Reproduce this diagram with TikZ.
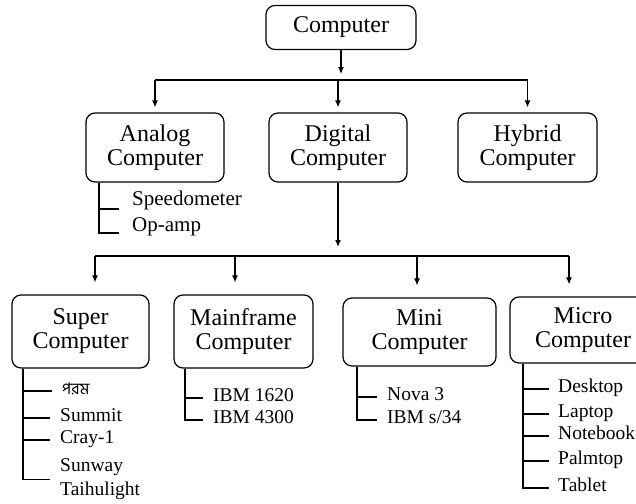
\documentclass[tikz,border=0pt]{standalone}
\usepackage{fontspec}
\setmainfont{Liberation Serif}
\newfontfamily\bengali[Script=Bengali]{Hind Siliguri}
\usetikzlibrary{arrows.meta}

\tikzset{
  box/.style={draw, line width=1.2pt, rounded corners=9pt, align=center,
    inner sep=0pt, font=\fontsize{24}{24}\selectfont},
  arr/.style={line width=1.2pt, -{Latex[length=7pt,width=6pt]}},
  tree/.style={line width=1.2pt},
  leaf/.style={anchor=west, inner sep=0pt, text height=1.6ex, text depth=.25ex,
    font=\fontsize{19.5}{24}\selectfont},
}

\begin{document}
\begin{tikzpicture}[x=1pt,y=-1pt]
\useasboundingbox (0,0) rectangle (636,503);
\clip (0,0) rectangle (636,503);
% boxes
\node[box, minimum width=150pt, minimum height=44pt] (comp) at (341,27.5) {Computer};
\node[box, minimum width=138pt, minimum height=69pt] (analog) at (155,147.5) {Analog\\Computer};
\node[box, minimum width=138pt, minimum height=69pt] (digital) at (338,147.5) {Digital\\Computer};
\node[box, minimum width=139pt, minimum height=69pt] (hybrid) at (527.5,147.5) {Hybrid\\Computer};
\node[box, minimum width=137pt, minimum height=73pt] (super) at (80.5,331.5) {Super\\Computer};
\node[box, minimum width=139pt, minimum height=73pt] (main) at (243.5,331.5) {Mainframe\\Computer};
\node[box, minimum width=153pt, minimum height=68pt] (mini) at (419.5,332) {Mini\\Computer};
\node[box, minimum width=146pt, minimum height=66pt] (micro) at (583,330) {Micro\\Computer};
% first level
\coordinate (bus1) at (340,80);
\draw[arr, shorten >=6pt] (comp) -- (comp |- bus1);
\draw[tree] (analog.north |- bus1) -- (hybrid.north |- bus1);
\foreach \n in {analog,digital,hybrid}
  \draw[arr, shorten >=5pt] (\n.north |- bus1) -- (\n);
% second level
\coordinate (bus2) at (339,256);
\coordinate (tsuper) at (95,256);
\coordinate (tmain) at (235,256);
\coordinate (tmini) at (417,256);
\coordinate (tmicro) at (569,256);
\draw[arr, shorten >=9pt] (digital) -- (digital |- bus2);
\draw[tree] (tsuper) -- (tmicro);
\foreach \t/\n in {tsuper/super,tmain/main,tmini/mini,tmicro/micro}
  \draw[arr, shorten >=12pt] (\t) -- (\t |- \n.north);
% analog examples
\node[leaf, font=\fontsize{21}{24}\selectfont] (speed) at (132,202) {Speedometer};
\node[leaf, font=\fontsize{21}{24}\selectfont] (opamp) at (132,228) {Op-amp};
\coordinate (atr) at (99,0);
\draw[tree] (analog.south -| atr) |- ([xshift=-13pt,yshift=-7pt]speed.west);
\draw[tree] (analog.south -| atr) |- ([xshift=-13pt,yshift=-5pt]opamp.west);
% super examples
\node[leaf, font=\bengali\fontsize{16}{20}\selectfont] (param) at (62,391) {পরম};
\node[leaf] (summit) at (60,418) {Summit};
\node[leaf] (cray) at (60,440) {Cray-1};
\node[leaf, align=left, text height={}, text depth={}] (sunway) at (60,479.5) {Sunway\\Taihulight};
\coordinate (str) at (23,0);
\foreach \l in {param,summit,cray,sunway}
  \draw[tree] (super.south -| str) |- ([xshift=-10pt]\l.west);
% mainframe examples
\node[leaf] (ibma) at (213,398) {IBM 1620};
\node[leaf] (ibmb) at (213,420) {IBM 4300};
\coordinate (mtr) at (185,0);
\foreach \l in {ibma,ibmb}
  \draw[tree] (main.south -| mtr) |- ([xshift=-10pt]\l.west);
% mini examples
\node[leaf] (nova) at (387,397) {Nova 3};
\node[leaf] (ibms) at (387,420) {IBM s/34};
\coordinate (ntr) at (357,0);
\foreach \l in {nova,ibms}
  \draw[tree] (mini.south -| ntr) |- ([xshift=-10pt]\l.west);
% micro examples
\node[leaf] (desk) at (558,389) {Desktop};
\node[leaf] (lap) at (558,414) {Laptop};
\node[leaf] (note) at (558,436) {Notebook};
\node[leaf] (palm) at (558,461) {Palmtop};
\node[leaf] (tab) at (558,488) {Tablet};
\coordinate (ctr) at (523,0);
\foreach \l in {desk,lap,note,palm,tab}
  \draw[tree] (micro.south -| ctr) |- ([xshift=-9pt]\l.west);
\end{tikzpicture}
\end{document}
